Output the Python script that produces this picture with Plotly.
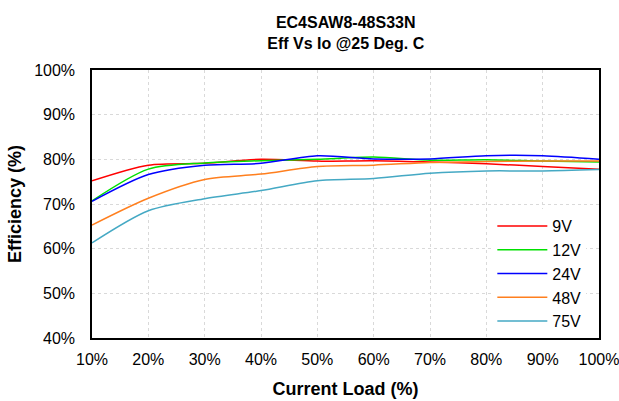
import plotly.graph_objects as go

load = [10, 20, 30, 40, 50, 60, 70, 80, 90, 100]
eff_9v = [75.2, 78.7, 79.1, 80.0, 79.6, 79.7, 79.4, 79.0, 78.4, 77.8]
eff_12v = [70.7, 77.8, 79.2, 79.7, 80.0, 80.5, 79.8, 79.9, 79.6, 79.4]
eff_24v = [70.6, 76.6, 78.7, 79.1, 80.8, 80.1, 80.1, 80.8, 80.8, 80.0]
eff_48v = [65.3, 71.3, 75.5, 76.7, 78.4, 78.7, 79.3, 79.5, 79.6, 79.6]
eff_75v = [61.3, 68.5, 71.2, 73.0, 75.2, 75.7, 76.9, 77.4, 77.4, 77.7]

series = [
    ("9V", eff_9v, "#ff0000"),
    ("12V", eff_12v, "#00e000"),
    ("24V", eff_24v, "#0000ff"),
    ("48V", eff_48v, "#ff7f1e"),
    ("75V", eff_75v, "#45a9c4"),
]

fig = go.Figure()
for name, vals, color in series:
    fig.add_trace(go.Scatter(
        x=load, y=vals, name=name, mode="lines",
        line=dict(color=color, width=1.5, shape="spline", smoothing=0.8),
    ))

font = "Liberation Sans, Arial, sans-serif"
fig.update_layout(
    width=619, height=401,
    margin=dict(l=92, r=20, t=70, b=63),
    paper_bgcolor="white", plot_bgcolor="white",
    font=dict(family=font, size=16, color="black"),
    title=dict(
        text="<b>EC4SAW8-48S33N<br>Eff Vs Io @25 Deg. C</b>",
        x=0.5585, xanchor="center", yref="container", y=0.929, yanchor="middle",
        font=dict(size=16, family=font, color="black"),
    ),
    showlegend=True,
    legend=dict(
        x=0.975, xanchor="right", y=0, yanchor="bottom",
        bgcolor="white", borderwidth=0,
        font=dict(size=16, family=font),
        tracegroupgap=0, itemwidth=50,
    ),
    xaxis=dict(
        range=[10, 100], tickvals=load,
        ticktext=[f"{v}%" for v in load],
        showgrid=True, gridcolor="#d9d9d9", griddash="dot", gridwidth=1,
        showline=True, linecolor="black", linewidth=1.5, mirror=True,
        ticks="outside", ticklen=6, tickcolor="rgba(0,0,0,0)", zeroline=False,
        automargin=False, ticklabeloverflow="allow",
        title=dict(text="<b>Current Load (%)</b>", font=dict(size=18), standoff=15),
        tickfont=dict(size=16),
    ),
    yaxis=dict(
        range=[40, 100], tickvals=[40, 50, 60, 70, 80, 90, 100],
        ticktext=["40%", "50%", "60%", "70%", "80%", "90%", "100%"],
        showgrid=True, gridcolor="#d9d9d9", griddash="dot", gridwidth=1,
        showline=True, linecolor="black", linewidth=1.5, mirror=True,
        ticks="outside", ticklen=12, tickcolor="rgba(0,0,0,0)", zeroline=False,
        automargin=False,
        title=dict(text="<b>Efficiency (%)</b>", font=dict(size=18), standoff=8),
        tickfont=dict(size=16),
    ),
)

fig.write_html("out.html")
